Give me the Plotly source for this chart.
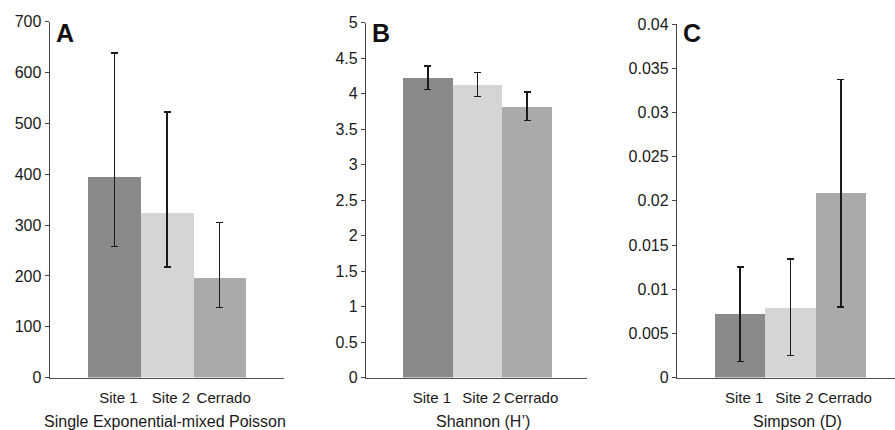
import plotly.graph_objects as go

sites = ["Site 1", "Site 2", "Cerrado"]
bar_colors = ["#8a8a8a", "#d4d6d6", "#a9abaa"]

# Panel A: Single Exponential-mixed Poisson
a_vals = [396, 325, 197]
a_up = [242, 197, 108]
a_down = [138, 108, 59]

# Panel B: Shannon (H')
b_vals = [4.22, 4.13, 3.81]
b_up = [0.17, 0.17, 0.21]
b_down = [0.16, 0.17, 0.19]

# Panel C: Simpson (D)
c_vals = [0.0072, 0.0079, 0.0209]
c_up = [0.0053, 0.0055, 0.0128]
c_down = [0.0054, 0.0054, 0.0129]

titles = ["Single Exponential-mixed Poisson", "Shannon (H\u2019)", "Simpson (D)"]
letters = ["A", "B", "C"]

W, H = 895, 430
FONT = "Liberation Sans, Arial, sans-serif"

panels = [
    dict(vals=a_vals, up=a_up, down=a_down, xd=(49.7, 284), ytop=21.7, yr=[0, 700], dt=100,
         xr=[-1.227, 3.221], title_x=164.5),
    dict(vals=b_vals, up=b_up, down=b_down, xd=(366, 587), ytop=22.7, yr=[0, 5], dt=0.5,
         xr=[-1.245, 3.204], title_x=482.5),
    dict(vals=c_vals, up=c_up, down=c_down, xd=(677, 895), ytop=24.0, yr=[0, 0.04], dt=0.005,
         xr=[-1.255, 3.077], title_x=797.5),
]

ybottom = 377.6

fig = go.Figure()
layout = dict(
    width=W, height=H,
    margin=dict(l=0, r=0, t=0, b=0, autoexpand=False),
    paper_bgcolor="white", plot_bgcolor="white",
    showlegend=False,
    bargap=0,
    font=dict(family=FONT, size=15, color="#1a1a1a"),
)
annotations = []
shapes = []

for i, p in enumerate(panels):
    n = "" if i == 0 else str(i + 1)
    xa = "x" + n
    ya = "y" + n
    fig.add_trace(go.Bar(
        x=sites, y=p["vals"], xaxis=xa, yaxis=ya,
        marker=dict(color=bar_colors, line=dict(width=0)),
        error_y=dict(type="data", symmetric=False, array=p["up"], arrayminus=p["down"],
                     color="#1a1a1a", thickness=1.6, width=3.5),
        width=1.0,
    ))
    xdom = [p["xd"][0] / W, min(p["xd"][1] / W, 1.0)]
    ydom = [(H - ybottom) / H, (H - p["ytop"]) / H]
    layout["xaxis" + n] = dict(
        domain=xdom, anchor=ya, type="category", range=p["xr"], automargin=False,
        showline=True, linecolor="#555555", linewidth=1.3,
        ticks="outside", ticklen=6, tickcolor="rgba(0,0,0,0)", tickangle=0,
        ticklabelshift=4,
        showgrid=False, zeroline=False, fixedrange=True,
        tickfont=dict(family=FONT, size=15, color="#1a1a1a"),
    )
    layout["yaxis" + n] = dict(
        domain=ydom, anchor=xa, range=p["yr"], dtick=p["dt"], tick0=0, automargin=False,
        showline=True, linecolor="#444444", linewidth=1.3,
        ticks="outside", ticklen=4, tickcolor="#444444", tickwidth=1,
        showgrid=False, zeroline=False, fixedrange=True,
        tickfont=dict(family=FONT, size=16, color="#1a1a1a"),
    )
    # end ticks on the category axis
    for xv in (0, 1):
        shapes.append(dict(type="line", xref=xa + " domain", yref=ya,
                           x0=xv, x1=xv, ysizemode="pixel", yanchor=0, y0=0, y1=-4,
                           line=dict(color="#555555", width=1)))
    annotations.append(dict(
        text="<b>%s</b>" % letters[i], xref="paper", yref="paper",
        x=(p["xd"][0] + 4) / W, y=(H - 17) / H, xanchor="left", yanchor="top",
        showarrow=False, font=dict(family=FONT, size=25, color="#111111"),
    ))
    annotations.append(dict(
        text=titles[i], xref="paper", yref="paper",
        x=p["title_x"] / W, y=(H - 421.5) / H, xanchor="center", yanchor="middle",
        showarrow=False, font=dict(family=FONT, size=16, color="#1a1a1a"),
    ))

layout["annotations"] = annotations
layout["shapes"] = shapes
fig.update_layout(**layout)
fig.write_html(
    "out.html",
    config={"displayModeBar": False},
    post_script="document.body.style.margin='0';document.body.style.overflow='hidden';",
)
